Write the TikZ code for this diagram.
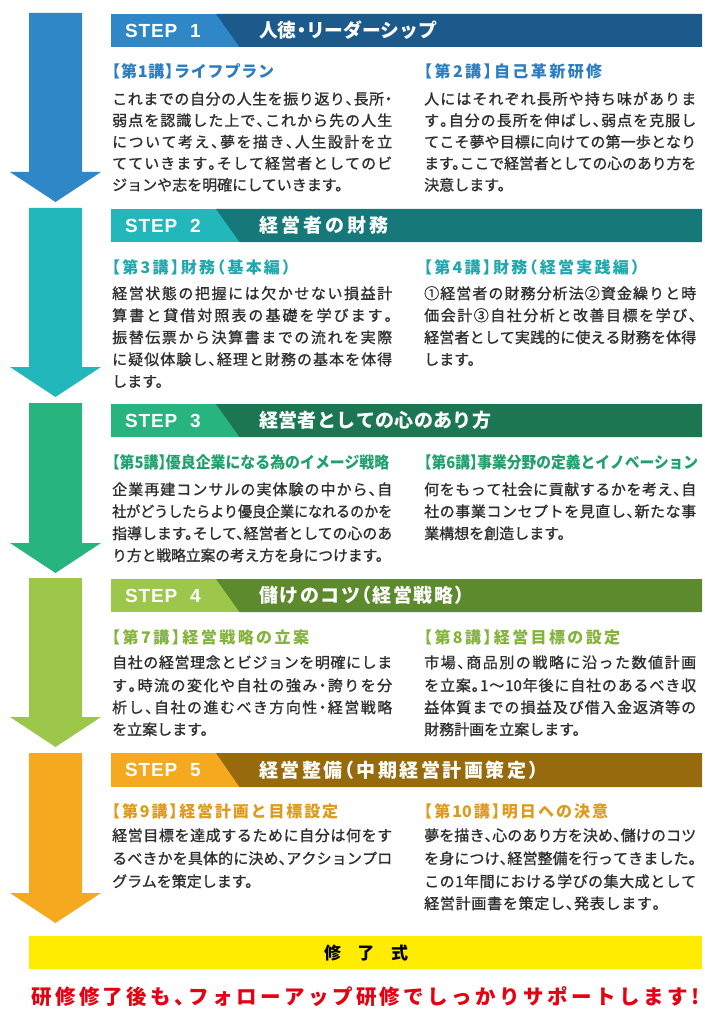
\documentclass[tikz,border=0pt]{standalone}
\usepackage{fontspec}
\usepackage{graphicx}
\newfontfamily\jp[RawFeature=+halt,FakeBold=1.0]{Noto Sans CJK JP}
\newfontfamily\jph[RawFeature=+halt]{Noto Sans CJK JP}
\newfontfamily\stepfont{Liberation Sans}
\definecolor{cIL}{HTML}{2F87C8}\definecolor{cID}{HTML}{1B5A8B}\definecolor{cIT}{HTML}{2B7DBF}
\definecolor{cIIL}{HTML}{22B8BB}\definecolor{cIID}{HTML}{167878}\definecolor{cIIT}{HTML}{20A8AD}
\definecolor{cIIIL}{HTML}{27B47F}\definecolor{cIIID}{HTML}{1B7651}\definecolor{cIIIT}{HTML}{21A06D}
\definecolor{cIVL}{HTML}{9CC74B}\definecolor{cIVD}{HTML}{5E8A2E}\definecolor{cIVT}{HTML}{84B33B}
\definecolor{cVL}{HTML}{F5A91F}\definecolor{cVD}{HTML}{976A0D}\definecolor{cVT}{HTML}{E09A1B}
\definecolor{ink}{HTML}{2E2E2E}
\definecolor{ybar}{HTML}{FFEC00}
\definecolor{redtxt}{HTML}{E50012}
\ExplSyntaxOn
\NewDocumentCommand \spread { m m }
  { \hbox_to_wd:nn {#1} { \tl_map_inline:nn {#2} { ##1 \skip_horizontal:n { 0pt plus 1fil } } \unskip } }
\ExplSyntaxOff
\newsavebox\fitbox
\NewDocumentCommand\fit{m m}{\sbox\fitbox{#2}\ifdim\wd\fitbox>#1\relax\resizebox{#1}{\height}{\usebox\fitbox}\else\spread{#1}{#2}\fi}
\newcommand\stepArrow[4]{\fill[#1] (29,#2) -- (82,#2) -- (82,#3) -- (101,#3) -- (55.5,#4) -- (10,#3) -- (29,#3) -- cycle;}
\newcommand\stepBar[4]{\fill[#1] (111,#3) rectangle (702,#4);
  \fill[#2] (216,#3) -- (702,#3) -- (702,#4) -- (239.5,#4) -- cycle;}
\tikzset{
  body/.style={anchor=base west, inner sep=0pt, text=ink, font=\jp\fontsize{15}{18}\selectfont},
  lect/.style={anchor=base west, inner sep=0pt, font=\jph\bfseries\fontsize{16}{18}\selectfont},
  steplbl/.style={anchor=base west, inner sep=0pt, text=white, font=\stepfont\bfseries\fontsize{19}{22}\selectfont},
  steptitle/.style={anchor=base west, inner sep=0pt, text=white, font=\jph\bfseries\fontsize{19}{22}\selectfont},
}
\begin{document}
\begin{tikzpicture}[x=1pt,y=-1pt]
\useasboundingbox (0,0) rectangle (704,1024);
\fill[white] (0,0) rectangle (704,1024);
% arrows
\stepArrow{cIL}{13}{172}{202}
\stepArrow{cIIL}{208}{367}{397}
\stepArrow{cIIIL}{403}{543}{573}
\stepArrow{cIVL}{578}{717}{747}
\stepArrow{cVL}{753}{893}{923}
% header bars
\stepBar{cIL}{cID}{14}{47}
\stepBar{cIIL}{cIID}{209}{242}
\stepBar{cIIIL}{cIIID}{404}{437}
\stepBar{cIVL}{cIVD}{579}{612}
\stepBar{cVL}{cVD}{753}{787}
% STEP 1
\node[steplbl] (s1) at (125,37.3) {\spread{52pt}{STEP}\hspace{13pt}1};
\node[steptitle] (h1) at (259,37.7) {\fit{178pt}{人徳・リーダーシップ}};
\node[lect,text=cIT] (t1) at (112,77.5) {\fit{162pt}{【第1講】ライフプラン}};
\node[body] (b1a) at (112,104.5) {\fit{280pt}{これまでの自分の人生を振り返り、長所・}};
\node[body] (b1b) at (112,126) {\fit{280pt}{弱点を認識した上で、これから先の人生}};
\node[body] (b1c) at (112,147.5) {\fit{280pt}{について考え、夢を描き、人生設計を立}};
\node[body] (b1d) at (112,169) {\fit{280pt}{てていきます。そして経営者としてのビ}};
\node[body] (b1e) at (112,190.5) {ジョンや志を明確にしていきます。};
\node[lect,text=cIT] (t2) at (424,77.5) {\fit{178pt}{【第2講】自己革新研修}};
\node[body] (r1a) at (424,104.5) {\fit{272pt}{人にはそれぞれ長所や持ち味がありま}};
\node[body] (r1b) at (424,126) {\fit{272pt}{す。自分の長所を伸ばし、弱点を克服し}};
\node[body] (r1c) at (424,147.5) {\fit{272pt}{てこそ夢や目標に向けての第一歩となり}};
\node[body] (r1d) at (424,169) {\fit{272pt}{ます。ここで経営者としての心のあり方を}};
\node[body] (r1e) at (424,190.5) {決意します。};
% STEP 2
\node[steplbl] (s2) at (125,232.3) {\spread{52pt}{STEP}\hspace{13pt}2};
\node[steptitle] (h2) at (259,232.7) {\fit{129pt}{経営者の財務}};
\node[lect,text=cIIT] (t3) at (112,273) {\fit{178pt}{【第3講】財務（基本編）}};
\node[body] (b2a) at (112,299) {\fit{280pt}{経営状態の把握には欠かせない損益計}};
\node[body] (b2b) at (112,321) {\fit{280pt}{算書と貸借対照表の基礎を学びます。}};
\node[body] (b2c) at (112,343) {\fit{280pt}{振替伝票から決算書までの流れを実際}};
\node[body] (b2d) at (112,365) {\fit{280pt}{に疑似体験し、経理と財務の基本を体得}};
\node[body] (b2e) at (112,387) {します。};
\node[lect,text=cIIT] (t4) at (424,273) {\fit{215pt}{【第4講】財務（経営実践編）}};
\node[body] (r2a) at (424,299) {\fit{272pt}{①経営者の財務分析法②資金繰りと時}};
\node[body] (r2b) at (424,321) {\fit{272pt}{価会計③自社分析と改善目標を学び、}};
\node[body] (r2c) at (424,343) {\fit{272pt}{経営者として実践的に使える財務を体得}};
\node[body] (r2d) at (424,365) {します。};
% STEP 3
\node[steplbl] (s3) at (125,427.3) {\spread{52pt}{STEP}\hspace{13pt}3};
\node[steptitle] (h3) at (259,427.7) {\fit{232pt}{経営者としての心のあり方}};
\node[lect,text=cIIIT] (t5) at (112,468) {\fit{277pt}{【第5講】優良企業になる為のイメージ戦略}};
\node[body] (b3a) at (112,495) {\fit{280pt}{企業再建コンサルの実体験の中から、自}};
\node[body] (b3b) at (112,517) {\fit{280pt}{社がどうしたらより優良企業になれるのかを}};
\node[body] (b3c) at (112,539) {\fit{280pt}{指導します。そして、経営者としての心のあ}};
\node[body] (b3d) at (112,561) {\fit{271pt}{り方と戦略立案の考え方を身につけます。}};
\node[lect,text=cIIIT] (t6) at (424,468) {\fit{274pt}{【第6講】事業分野の定義とイノベーション}};
\node[body] (r3a) at (424,495) {\fit{272pt}{何をもって社会に貢献するかを考え、自}};
\node[body] (r3b) at (424,517) {\fit{272pt}{社の事業コンセプトを見直し、新たな事}};
\node[body] (r3c) at (424,539) {業構想を創造します。};
% STEP 4
\node[steplbl] (s4) at (125,602.3) {\spread{52pt}{STEP}\hspace{13pt}4};
\node[steptitle] (h4) at (259,602.7) {\fit{205pt}{儲けのコツ（経営戦略）}};
\node[lect,text=cIVT] (t7) at (112,643) {\fit{197pt}{【第7講】経営戦略の立案}};
\node[body] (b4a) at (112,668) {\fit{280pt}{自社の経営理念とビジョンを明確にしま}};
\node[body] (b4b) at (112,691) {\fit{280pt}{す。時流の変化や自社の強み・誇りを分}};
\node[body] (b4c) at (112,713) {\fit{280pt}{析し、自社の進むべき方向性・経営戦略}};
\node[body] (b4d) at (112,735) {を立案します。};
\node[lect,text=cIVT] (t8) at (424,643) {\fit{196pt}{【第8講】経営目標の設定}};
\node[body] (r4a) at (424,668) {\fit{272pt}{市場、商品別の戦略に沿った数値計画}};
\node[body] (r4b) at (424,691) {\fit{272pt}{を立案。1〜{10}年後に自社のあるべき収}};
\node[body] (r4c) at (424,713) {\fit{272pt}{益体質までの損益及び借入金返済等の}};
\node[body] (r4d) at (424,735) {財務計画を立案します。};
% STEP 5
\node[steplbl] (s5) at (125,776.8) {\spread{52pt}{STEP}\hspace{13pt}5};
\node[steptitle] (h5) at (259,777.2) {\fit{279pt}{経営整備（中期経営計画策定）}};
\node[lect,text=cVT] (t9) at (112,817) {\fit{226pt}{【第9講】経営計画と目標設定}};
\node[body] (b5a) at (112,841) {\fit{280pt}{経営目標を達成するために自分は何をす}};
\node[body] (b5b) at (112,864) {\fit{280pt}{るべきかを具体的に決め、アクションプロ}};
\node[body] (b5c) at (112,887) {グラムを策定します。};
\node[lect,text=cVT] (t10) at (424,817) {\fit{184pt}{【第{10}講】明日への決意}};
\node[body] (r5a) at (424,841) {\fit{272pt}{夢を描き、心のあり方を決め、儲けのコツ}};
\node[body] (r5b) at (424,864) {\fit{272pt}{を身につけ、経営整備を行ってきました。}};
\node[body] (r5c) at (424,887) {\fit{272pt}{この1年間における学びの集大成として}};
\node[body] (r5d) at (424,909) {\fit{236pt}{経営計画書を策定し、発表します。}};
% ceremony bar
\node[fill=ybar, inner sep=0pt, minimum width=673pt, minimum height=33pt, anchor=north west] (bar) at (29,936) {};
\node[anchor=base, inner sep=0pt, text=black, font=\jph\bfseries\fontsize{17}{20}\selectfont] (cer) at (366,959) {\spread{84pt}{修了式}};
% follow-up line
\node[anchor=base west, inner sep=0pt, text=redtxt, font=\jph\bfseries\fontsize{20.5}{24}\selectfont] (follow) at (31,1004.5) {\fit{668pt}{研修修了後も、フォローアップ研修でしっかりサポートします!}};
\end{tikzpicture}
\end{document}
